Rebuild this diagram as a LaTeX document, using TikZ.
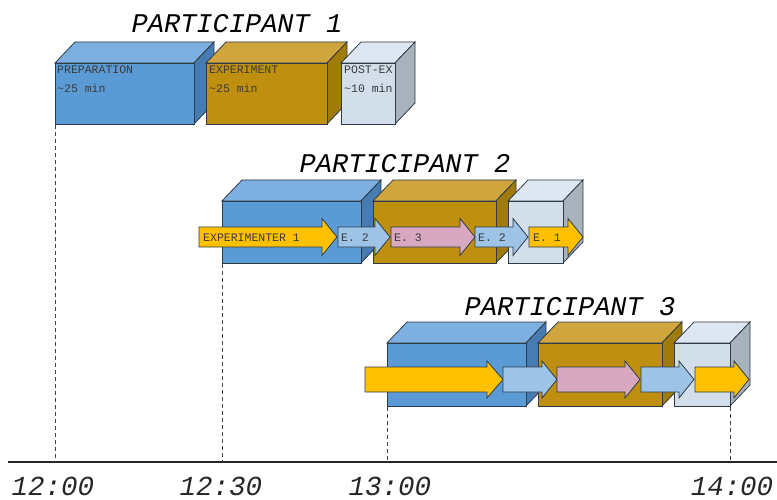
\documentclass[tikz,border=0pt]{standalone}
\usepackage{fontspec}
\setmonofont{Liberation Mono}
\definecolor{edge}{HTML}{2E3B48}
\definecolor{bluefront}{HTML}{5B9BD5}
\definecolor{bluetop}{HTML}{7DAFE0}
\definecolor{blueside}{HTML}{477CB2}
\definecolor{goldfront}{HTML}{BF900F}
\definecolor{goldtop}{HTML}{D1A53E}
\definecolor{goldside}{HTML}{A07B0A}
\definecolor{postfront}{HTML}{D2DEEA}
\definecolor{posttop}{HTML}{DEE7F1}
\definecolor{postside}{HTML}{A8B2BC}
\definecolor{arryellow}{HTML}{FFC000}
\definecolor{arrblue}{HTML}{9DC3E6}
\definecolor{arrpink}{HTML}{D7A8C0}
\definecolor{labelgray}{HTML}{3A3A3A}
% cuboid: x1, x2, ytop, ybot, front, top, side
\newcommand\mycuboid[7]{%
  \filldraw[fill=#6,draw=edge,line width=0.8pt] (#1,#3) -- (#1+20,#3-21) -- (#2+20,#3-21) -- (#2,#3) -- cycle;
  \filldraw[fill=#7,draw=edge,line width=0.8pt] (#2,#3) -- (#2+20,#3-21) -- (#2+20,#4-21) -- (#2,#4) -- cycle;
  \filldraw[fill=#5,draw=edge,line width=0.8pt] (#1,#3) rectangle (#2,#4);
}
% arrow: x1, xhead, xtip, ycenter, body half, head half, colour
\newcommand\myarrow[7]{%
  \filldraw[fill=#7,draw=edge,line width=0.8pt,line join=miter]
    (#1,#4-#5) -- (#2,#4-#5) -- (#2,#4-#6) -- (#3,#4) -- (#2,#4+#6) -- (#2,#4+#5) -- (#1,#4+#5) -- cycle;
}
\tikzset{
  title/.style={font=\fontsize{27}{30}\selectfont\ttfamily\itshape, text=black, inner sep=0pt, anchor=base},
  timelabel/.style={font=\fontsize{27.5}{30}\selectfont\ttfamily\itshape, text=black!85, inner sep=0pt, anchor=base},
  boxlabel/.style={font=\fontsize{11.5}{13}\selectfont\ttfamily, text=labelgray, inner sep=0pt, anchor=base west},
  guide/.style={draw=black!75, line width=0.8pt, dash pattern=on 4pt off 3pt},
}
\begin{document}
\begin{tikzpicture}[x=1pt,y=-1pt]
\useasboundingbox (0,0) rectangle (777,500);
\fill[white] (0,0) rectangle (777,500);

% ---------- Participant 1 ----------
\node[title] (t1) at (237,33) {PARTICIPANT 1};
\mycuboid{55}{194}{63}{124}{bluefront}{bluetop}{blueside}
\mycuboid{206}{327}{63}{124}{goldfront}{goldtop}{goldside}
\mycuboid{341}{395}{63}{124}{postfront}{posttop}{postside}
\node[boxlabel] (p1a) at (57,74) {PREPARATION};
\node[boxlabel] (p1b) at (57,93) {\textasciitilde25 min};
\node[boxlabel] (p1c) at (209,74) {EXPERIMENT};
\node[boxlabel] (p1d) at (209,93) {\textasciitilde25 min};
\node[boxlabel] (p1e) at (344,74) {POST-EX};
\node[boxlabel] (p1f) at (344,93) {\textasciitilde10 min};

% ---------- Participant 2 ----------
\node[title] (t2) at (405,173) {PARTICIPANT 2};
\mycuboid{222}{361}{201}{263}{bluefront}{bluetop}{blueside}
\mycuboid{373}{496}{201}{263}{goldfront}{goldtop}{goldside}
\mycuboid{508}{563}{201}{263}{postfront}{posttop}{postside}
\myarrow{199}{322}{337}{237}{10}{18.5}{arryellow}
\myarrow{338}{375}{390}{237}{10}{18.5}{arrblue}
\myarrow{391}{460}{475}{237}{10}{18.5}{arrpink}
\myarrow{475}{513}{528}{237}{10}{18.5}{arrblue}
\myarrow{529}{568}{583}{237}{10}{18.5}{arryellow}
\node[boxlabel] (a21) at (203,241) {EXPERIMENTER 1};
\node[boxlabel] (a22) at (341,241) {E. 2};
\node[boxlabel] (a23) at (394,241) {E. 3};
\node[boxlabel] (a24) at (478,241) {E. 2};
\node[boxlabel] (a25) at (533,241) {E. 1};

% ---------- Participant 3 ----------
\node[title] (t3) at (570,315) {PARTICIPANT 3};
\mycuboid{387}{526}{343}{406}{bluefront}{bluetop}{blueside}
\mycuboid{538}{662}{343}{406}{goldfront}{goldtop}{goldside}
\mycuboid{674}{730}{343}{406}{postfront}{posttop}{postside}
\myarrow{365}{487}{503}{379.5}{12.5}{18.5}{arryellow}
\myarrow{503}{542}{557}{379.5}{12.5}{18.5}{arrblue}
\myarrow{557}{625}{640}{379.5}{12.5}{18.5}{arrpink}
\myarrow{641}{679}{694}{379.5}{12.5}{18.5}{arrblue}
\myarrow{695}{734}{749}{379.5}{12.5}{18.5}{arryellow}

% ---------- Timeline ----------
\coordinate (tlstart) at (8,462);
\coordinate (tlend) at (777,462);
\draw[line width=1.6pt, draw=black!85] (tlstart) -- (tlend);
\coordinate (g1a) at (55,125);  \coordinate (g1b) at (55,462);
\coordinate (g2a) at (222,264); \coordinate (g2b) at (222,462);
\coordinate (g3a) at (387,407); \coordinate (g3b) at (387,462);
\coordinate (g4a) at (730,407); \coordinate (g4b) at (730,462);
\draw[guide] (g1a) -- (g1b);
\draw[guide] (g2a) -- (g2b);
\draw[guide] (g3a) -- (g3b);
\draw[guide] (g4a) -- (g4b);
\node[timelabel] (l1) at (53,495) {12:00};
\node[timelabel] (l2) at (221,495) {12:30};
\node[timelabel] (l3) at (390,495) {13:00};
\node[timelabel] (l4) at (732,495) {14:00};
\end{tikzpicture}
\end{document}
